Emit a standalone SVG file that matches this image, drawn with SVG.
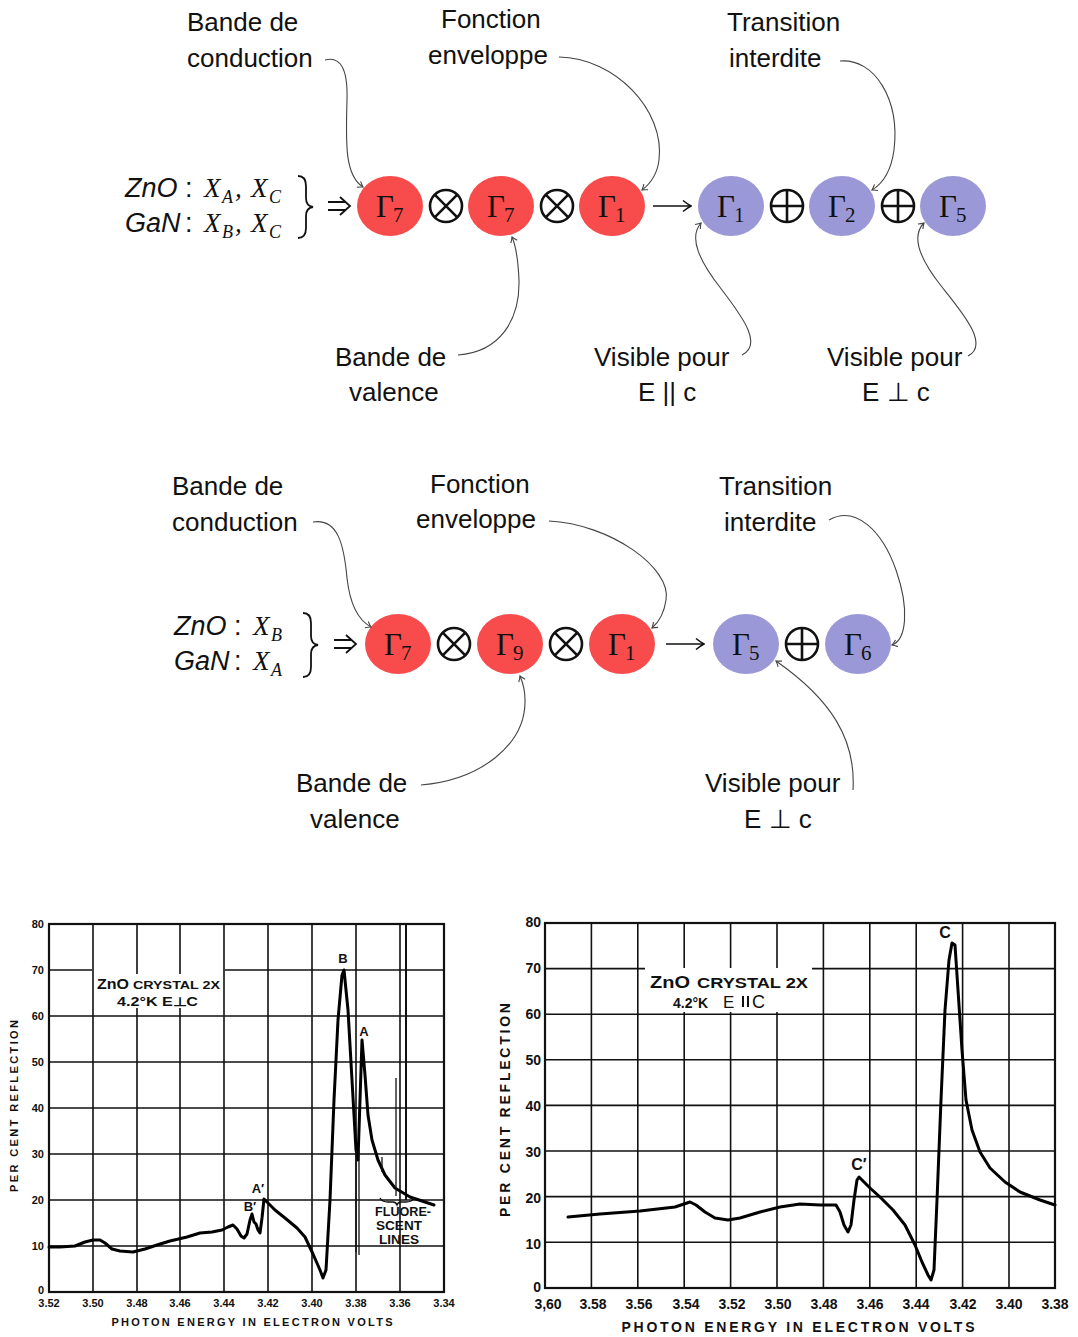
<svg xmlns="http://www.w3.org/2000/svg" width="1078" height="1337" viewBox="0 0 1078 1337">
<style>
.lbl{font-family:"Liberation Sans",Arial,sans-serif;font-size:26px;fill:#111}
.it{font-family:"Liberation Sans",Arial,sans-serif;font-style:italic;font-size:27px;fill:#111}
.mx{font-family:"Liberation Serif","Times New Roman",serif;font-style:italic;font-size:27px;fill:#111}
.ms{font-family:"Liberation Serif","Times New Roman",serif;font-style:italic;font-size:18px;fill:#111}
.col{font-family:"Liberation Sans",Arial,sans-serif;font-size:27px;fill:#111}
.g{font-family:"Liberation Serif","Times New Roman",serif;font-size:31px;fill:#111}
.gs{font-family:"Liberation Serif","Times New Roman",serif;font-size:21px;fill:#111}
.red{fill:#f84b4b}
.blue{fill:#9b98d8}
.op{fill:none;stroke:#111;stroke-width:2.6}
.sym{fill:none;stroke:#111;stroke-width:1.8}
.con{fill:none;stroke:#444;stroke-width:1.1;marker-end:url(#arr)}
.frame{fill:none;stroke:#111;stroke-width:2.2}
.grid{fill:none;stroke:#111;stroke-width:1.6}
.curve{fill:none;stroke:#000;stroke-width:3;stroke-linejoin:round;stroke-linecap:round}
.thin{fill:none;stroke:#111;stroke-width:1.3}
.tk{font-family:"Liberation Sans",Arial,sans-serif;font-weight:bold;font-size:11px;fill:#111}
.tkr{font-family:"Liberation Sans",Arial,sans-serif;font-weight:bold;font-size:14px;fill:#111}
</style>
<defs>
<marker id="arr" viewBox="-6 -5 7 10" refX="0" refY="0" markerWidth="7" markerHeight="10" orient="auto" markerUnits="userSpaceOnUse">
<path d="M -5 -3.5 Q -2 -1 0 0 Q -2 1 -5 3.5" fill="none" stroke="#444" stroke-width="1.1"/>
</marker>
<marker id="arr2" viewBox="-10 -7 11 14" refX="0" refY="0" markerWidth="11" markerHeight="14" orient="auto" markerUnits="userSpaceOnUse">
<path d="M -8 -5.5 Q -3 -1.5 0 0 Q -3 1.5 -8 5.5" fill="none" stroke="#111" stroke-width="1.6"/>
</marker>
</defs>
<rect width="1078" height="1337" fill="#fff"/>

<!-- ===== Diagram 1 ===== -->
<g id="d1-lhs">
<text class="it" x="125" y="197">ZnO</text><text class="col" x="185" y="197">:</text>
<text class="mx" x="204" y="197">X</text><text class="ms" x="222" y="203">A</text><text class="mx" x="235" y="197">,</text>
<text class="mx" x="251" y="197">X</text><text class="ms" x="269" y="203">C</text>
<text class="it" x="125" y="232">GaN</text><text class="col" x="185" y="232">:</text>
<text class="mx" x="204" y="232">X</text><text class="ms" x="222" y="238">B</text><text class="mx" x="235" y="232">,</text>
<text class="mx" x="251" y="232">X</text><text class="ms" x="269" y="238">C</text>
<path class="sym" d="M298 176 Q306 176 306 186 L306 198 Q306 206 313 207 Q306 208 306 216 L306 228 Q306 238 298 238"/>
<path class="sym" d="M328 202 H346 M328 210 H346 M340 197 L350 206 L340 215" stroke-width="1.6"/>
</g>
<g id="n1-g7a"><ellipse class="red" cx="390" cy="206" rx="33" ry="30"/><text class="g" x="376" y="217">Γ</text><text class="gs" x="393" y="222">7</text></g>
<g id="n1-o1"><circle class="op" cx="446" cy="206" r="16"/><path class="op" d="M434.7 194.7 L457.3 217.3 M457.3 194.7 L434.7 217.3"/></g>
<g id="n1-g7b"><ellipse class="red" cx="501" cy="206" rx="33" ry="30"/><text class="g" x="487" y="217">Γ</text><text class="gs" x="504" y="222">7</text></g>
<g id="n1-o2"><circle class="op" cx="557" cy="206" r="16"/><path class="op" d="M545.7 194.7 L568.3 217.3 M568.3 194.7 L545.7 217.3"/></g>
<g id="n1-g1"><ellipse class="red" cx="612" cy="206" rx="33" ry="30"/><text class="g" x="598" y="217">Γ</text><text class="gs" x="615" y="222">1</text></g>
<g id="n1-b1"><ellipse class="blue" cx="731" cy="206" rx="33" ry="30"/><text class="g" x="717" y="217">Γ</text><text class="gs" x="734" y="222">1</text></g>
<g id="n1-o3"><circle class="op" cx="787" cy="206" r="16"/><path class="op" d="M771 206 H803 M787 190 V222"/></g>
<g id="n1-b2"><ellipse class="blue" cx="842" cy="206" rx="33" ry="30"/><text class="g" x="828" y="217">Γ</text><text class="gs" x="845" y="222">2</text></g>
<g id="n1-o4"><circle class="op" cx="898" cy="206" r="16"/><path class="op" d="M882 206 H914 M898 190 V222"/></g>
<g id="n1-b5"><ellipse class="blue" cx="953" cy="206" rx="33" ry="30"/><text class="g" x="939" y="217">Γ</text><text class="gs" x="956" y="222">5</text></g>

<g id="d1-labels">
<text class="lbl" x="187" y="31">Bande de</text><text class="lbl" x="187" y="67">conduction</text>
<text class="lbl" x="441" y="28">Fonction</text><text class="lbl" x="428" y="64">enveloppe</text>
<text class="lbl" x="727" y="31">Transition</text><text class="lbl" x="729" y="67">interdite</text>
<text class="lbl" x="335" y="366">Bande de</text><text class="lbl" x="349" y="401">valence</text>
<text class="lbl" x="594" y="366">Visible pour</text><text class="lbl" x="638" y="401">E || c</text>
<text class="lbl" x="827" y="366">Visible pour</text><text class="lbl" x="862" y="401">E ⊥ c</text>
</g>

<g id="d1-connectors">
<path style="fill:none;stroke:#111;stroke-width:1.6;marker-end:url(#arr2)" d="M653 206 H691"/>
<path class="con" d="M325 60 C340 56 348 68 347 100 C346 140 344 175 363 187"/>
<path class="con" d="M559 57 C615 58 665 110 659 160 C657 176 650 184 642 190"/>
<path class="con" d="M840 61 C875 58 900 100 894 150 C891 172 882 184 872 190"/>
<path class="con" d="M458 355 C500 352 520 320 519 280 C518 258 516 246 512 237"/>
<path class="con" d="M742 355 C762 345 745 320 722 290 C700 262 688 238 701 223"/>
<path class="con" d="M968 356 C990 345 962 312 942 287 C918 257 912 235 924 223"/>
</g>

<!-- ===== Diagram 2 ===== -->
<g id="d2-lhs">
<text class="it" x="174" y="635">ZnO</text><text class="col" x="234" y="635">:</text>
<text class="mx" x="253" y="635">X</text><text class="ms" x="271" y="641">B</text>
<text class="it" x="174" y="670">GaN</text><text class="col" x="234" y="670">:</text>
<text class="mx" x="253" y="670">X</text><text class="ms" x="271" y="676">A</text>
<path class="sym" d="M303 613 Q311 613 311 623 L311 636 Q311 644 318 645 Q311 646 311 654 L311 667 Q311 677 303 677"/>
<path class="sym" d="M334 640 H352 M334 648 H352 M346 635 L356 644 L346 653" stroke-width="1.6"/>
</g>
<g id="n2-g7"><ellipse class="red" cx="398" cy="644" rx="33" ry="30"/><text class="g" x="384" y="655">Γ</text><text class="gs" x="401" y="660">7</text></g>
<g id="n2-o1"><circle class="op" cx="454" cy="644" r="16"/><path class="op" d="M442.7 632.7 L465.3 655.3 M465.3 632.7 L442.7 655.3"/></g>
<g id="n2-g9"><ellipse class="red" cx="510" cy="644" rx="33" ry="30"/><text class="g" x="496" y="655">Γ</text><text class="gs" x="513" y="660">9</text></g>
<g id="n2-o2"><circle class="op" cx="566" cy="644" r="16"/><path class="op" d="M554.7 632.7 L577.3 655.3 M577.3 632.7 L554.7 655.3"/></g>
<g id="n2-g1"><ellipse class="red" cx="622" cy="644" rx="33" ry="30"/><text class="g" x="608" y="655">Γ</text><text class="gs" x="625" y="660">1</text></g>
<g id="n2-b5"><ellipse class="blue" cx="746" cy="644" rx="33" ry="30"/><text class="g" x="732" y="655">Γ</text><text class="gs" x="749" y="660">5</text></g>
<g id="n2-o3"><circle class="op" cx="802" cy="644" r="16"/><path class="op" d="M786 644 H818 M802 628 V660"/></g>
<g id="n2-b6"><ellipse class="blue" cx="858" cy="644" rx="33" ry="30"/><text class="g" x="844" y="655">Γ</text><text class="gs" x="861" y="660">6</text></g>

<g id="d2-labels">
<text class="lbl" x="172" y="495">Bande de</text><text class="lbl" x="172" y="531">conduction</text>
<text class="lbl" x="430" y="493">Fonction</text><text class="lbl" x="416" y="528">enveloppe</text>
<text class="lbl" x="719" y="495">Transition</text><text class="lbl" x="724" y="531">interdite</text>
<text class="lbl" x="296" y="792">Bande de</text><text class="lbl" x="310" y="828">valence</text>
<text class="lbl" x="705" y="792">Visible pour</text><text class="lbl" x="744" y="828">E ⊥ c</text>
</g>

<g id="d2-connectors">
<path style="fill:none;stroke:#111;stroke-width:1.6;marker-end:url(#arr2)" d="M666 644 H704"/>
<path class="con" d="M313 522 C338 518 344 545 347 578 C350 605 358 620 371 627"/>
<path class="con" d="M549 521 C610 524 672 568 666 600 C664 614 659 622 652 628"/>
<path class="con" d="M829 520 C855 505 882 530 896 570 C910 610 906 640 892 645"/>
<path class="con" d="M421 785 C480 780 526 745 525 700 C525 690 523 683 520 676"/>
<path class="con" d="M853 790 C856 740 832 700 776 661"/>
</g>

<!-- ===== Chart left ===== -->
<g id="chart-left">
<g class="grid">
<path d="M93 924V1292 M137 924V974 M137 1008V1292 M180 924V974 M180 1008V1292 M224 924V1292 M268 924V1292 M312 924V1292 M356 924V1292 M400 924V1292"/>
<path d="M49 970H92 M225 970H444 M49 1016H444 M49 1062H444 M49 1108H444 M49 1154H444 M49 1200H444 M49 1246H444"/>
<path d="M406 924V1200" stroke-width="2"/>
</g>
<rect class="frame" x="49" y="924" width="395" height="368"/>
<text class="tk" x="97" y="989" style="font-size:14px" textLength="32" lengthAdjust="spacingAndGlyphs">ZnO</text><text class="tk" x="133" y="989" style="font-size:11px" textLength="87" lengthAdjust="spacingAndGlyphs">CRYSTAL 2X</text>
<text class="tk" x="117" y="1006" style="font-size:12px" textLength="81" lengthAdjust="spacingAndGlyphs">4.2°K E⊥C</text>
<path class="curve" d="M49 1247 L60 1247 L75 1246 L85 1242 L93 1240 L100 1240 L105 1243 L112 1249 L120 1251 L133 1252 L145 1249 L157 1245 L170 1241 L187 1237 L200 1233 L212 1232 L222 1230 L228 1227 L233 1225 L237 1229 L241 1236 L244 1238 L247 1234 L250 1220 L252 1214 L254 1222 L256 1224 L258 1230 L260 1233 L262 1218 L264 1199 L268 1203 L275 1210 L285 1218 L297 1228 L305 1237 L313 1254 L320 1270 L323 1278 L326 1270 L330 1200 L334 1100 L338 1020 L342 975 L344 970 L348 1010 L352 1080 L356 1150 L358 1160 L360 1100 L362 1040 L365 1075 L368 1115 L372 1140 L378 1160 L385 1175 L395 1188 L410 1197 L425 1202 L434 1205"/>
<path class="thin" d="M356 1150 V1252 M359 1150 V1255 M382 1157 V1172 M396 1078 V1196"/>
<path class="thin" d="M380 1198 q2 4 8 4 h5 q3 0 4 3 q1 -3 4 -3 h5 q6 0 8 -4"/>
<text class="tk" x="343" y="963" text-anchor="middle" style="font-size:13px">B</text>
<text class="tk" x="364" y="1036" text-anchor="middle" style="font-size:13px">A</text>
<text class="tk" x="258" y="1193" text-anchor="middle" style="font-size:13px">A′</text>
<text class="tk" x="250" y="1211" text-anchor="middle" style="font-size:13px">B′</text>
<text class="tk" x="403" y="1216" text-anchor="middle" style="font-size:12px" textLength="56" lengthAdjust="spacingAndGlyphs">FLUORE-</text>
<text class="tk" x="399" y="1230" text-anchor="middle" style="font-size:12px" textLength="46" lengthAdjust="spacingAndGlyphs">SCENT</text>
<text class="tk" x="399" y="1244" text-anchor="middle" style="font-size:12px" textLength="40" lengthAdjust="spacingAndGlyphs">LINES</text>
<g class="tk" text-anchor="end">
<text x="44" y="928">80</text><text x="44" y="974">70</text><text x="44" y="1020">60</text><text x="44" y="1066">50</text><text x="44" y="1112">40</text><text x="44" y="1158">30</text><text x="44" y="1204">20</text><text x="44" y="1250">10</text><text x="44" y="1294">0</text>
</g>
<g class="tk" text-anchor="middle">
<text x="49" y="1307">3.52</text><text x="93" y="1307">3.50</text><text x="137" y="1307">3.48</text><text x="180" y="1307">3.46</text><text x="224" y="1307">3.44</text><text x="268" y="1307">3.42</text><text x="312" y="1307">3.40</text><text x="356" y="1307">3.38</text><text x="400" y="1307">3.36</text><text x="444" y="1307">3.34</text>
</g>
<text class="tk" x="252" y="1326" text-anchor="middle" textLength="281" lengthAdjust="spacing">PHOTON ENERGY IN ELECTRON VOLTS</text>
<text class="tk" transform="translate(18 1106) rotate(-90)" text-anchor="middle" textLength="172" lengthAdjust="spacing">PER CENT REFLECTION</text>
</g>

<!-- ===== Chart right ===== -->
<g id="chart-right">
<g class="grid">
<path d="M591.4 923V1288 M637.8 923V1288 M684.2 923V968 M684.2 1012V1288 M730.6 923V968 M730.6 1012V1288 M777 923V968 M777 1012V1288 M823.4 923V1288 M869.8 923V1288 M916.2 923V1288 M962.6 923V1288 M1009 923V1288"/>
<path d="M545 968.6H645 M812 968.6H1055 M545 1014.2H1055 M545 1059.8H1055 M545 1105.4H1055 M545 1151H1055 M545 1196.6H1055 M545 1242.2H1055"/>
</g>
<rect class="frame" x="545" y="923" width="510" height="365"/>
<text class="tkr" x="650" y="988" style="font-size:17px" textLength="40" lengthAdjust="spacingAndGlyphs">ZnO</text><text class="tkr" x="697" y="988" style="font-size:14px" textLength="111" lengthAdjust="spacingAndGlyphs">CRYSTAL 2X</text>
<text class="tkr" x="673" y="1008" style="font-size:14px">4.2°K</text>
<text x="723" y="1008" style="font-family:'Liberation Sans',Arial,sans-serif;font-size:17px;fill:#111">E</text>
<path d="M743 996 V1007 M748 996 V1007" stroke="#111" stroke-width="2"/>
<text x="752" y="1008" style="font-family:'Liberation Sans',Arial,sans-serif;font-size:18px;fill:#111">C</text>
<path class="curve" d="M568 1217 L600 1214 L640 1211 L675 1207 L684 1204 L690 1202 L696 1205 L705 1212 L715 1218 L728 1220 L740 1218 L760 1212 L780 1207 L800 1204 L820 1205 L836 1205 L840 1212 L844 1225 L848 1232 L851 1225 L854 1200 L857 1180 L859 1177 L863 1181 L870 1188 L880 1197 L893 1210 L905 1225 L915 1245 L922 1262 L928 1275 L931 1280 L934 1270 L937 1200 L941 1100 L945 1010 L949 960 L952 943 L955 945 L958 990 L962 1050 L966 1100 L972 1130 L980 1152 L990 1168 L1005 1182 L1020 1192 L1040 1200 L1055 1205"/>
<text class="tkr" x="945" y="938" text-anchor="middle" style="font-size:16px">C</text>
<text class="tkr" x="859" y="1170" text-anchor="middle" style="font-size:16px">C′</text>
<g class="tkr" text-anchor="end">
<text x="541" y="927">80</text><text x="541" y="973">70</text><text x="541" y="1019">60</text><text x="541" y="1065">50</text><text x="541" y="1111">40</text><text x="541" y="1157">30</text><text x="541" y="1203">20</text><text x="541" y="1249">10</text><text x="541" y="1292">0</text>
</g>
<g class="tkr" text-anchor="middle">
<text x="548" y="1309">3,60</text><text x="593" y="1309">3.58</text><text x="639" y="1309">3.56</text><text x="686" y="1309">3.54</text><text x="732" y="1309">3.52</text><text x="778" y="1309">3.50</text><text x="824" y="1309">3.48</text><text x="870" y="1309">3.46</text><text x="916" y="1309">3.44</text><text x="963" y="1309">3.42</text><text x="1009" y="1309">3.40</text><text x="1055" y="1309">3.38</text>
</g>
<text class="tkr" x="798" y="1332" text-anchor="middle" textLength="353" lengthAdjust="spacing">PHOTON ENERGY IN ELECTRON VOLTS</text>
<text class="tkr" transform="translate(510 1110) rotate(-90)" text-anchor="middle" textLength="214" lengthAdjust="spacing">PER CENT REFLECTION</text>
</g>
</svg>
